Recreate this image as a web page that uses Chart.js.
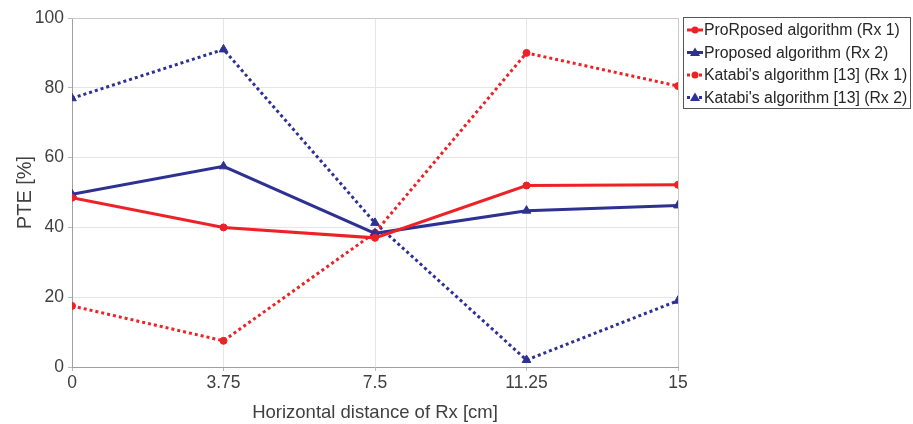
<!DOCTYPE html>
<html lang="en">
<head>
    <meta charset="UTF-8">
    <title>PTE vs horizontal distance</title>
    <script src="https://cdn.jsdelivr.net/npm/chart.js"></script>
    <style>
        body { margin: 0; background: #fff; }
        #wrap { width: 913px; height: 424px; }
    </style>
</head>
<body>
    <div id="wrap"><canvas id="pteChart" width="913" height="424"></canvas></div>

    <script>
        // data
        const distances = [0, 3.75, 7.5, 11.25, 15];
        const xTickLabels = ['0', '3.75', '7.5', '11.25', '15'];
        const proposedRx1 = [48.5, 40, 37, 52, 52.2];
        const proposedRx2 = [49.5, 57.5, 38.3, 44.8, 46.3];
        const katabiRx1 = [17.5, 7.5, 38.5, 90, 80.5];
        const katabiRx2 = [77, 91, 41.3, 2, 19];
        const seriesNames = [
            'ProRposed algorithm (Rx 1)',
            'Proposed algorithm (Rx 2)',
            "Katabi's algorithm [13] (Rx 1)",
            "Katabi's algorithm [13] (Rx 2)"
        ];

        const RED = '#ec2227';
        const BLUE = '#2e3192';
        const FONT = "'Liberation Sans', Arial, sans-serif";

        function toPoints(vals) {
            return vals.map((v, i) => ({ x: distances[i], y: v }));
        }

        function makeSet(i, vals, color, dotted, marker) {
            return {
                label: seriesNames[i],
                data: toPoints(vals),
                borderColor: color,
                backgroundColor: color,
                borderWidth: 3,
                borderDash: dotted ? [3, 3] : [],
                pointStyle: marker,
                pointRadius: marker === 'triangle' ? 5 : 3.5,
                pointBorderWidth: 1,
                tension: 0
            };
        }

        // boxed legend to the right, like the matlab one
        const boxLegend = {
            id: 'boxLegend',
            afterDraw(chart) {
                const c = chart.ctx;
                const x0 = 683, y0 = 17, w = 227, h = 91;
                c.save();
                c.strokeStyle = '#555';
                c.lineWidth = 1;
                c.strokeRect(x0 + 0.5, y0 + 0.5, w, h);
                c.font = '15.8px ' + FONT;
                c.textBaseline = 'middle';
                chart.data.datasets.forEach((ds, i) => {
                    const y = 30 + i * 22.5;
                    c.strokeStyle = ds.borderColor;
                    c.lineWidth = 3;
                    c.setLineDash(ds.borderDash.length ? [3, 3] : []);
                    c.beginPath();
                    c.moveTo(687, y);
                    c.lineTo(703, y);
                    c.stroke();
                    c.setLineDash([]);
                    c.fillStyle = ds.borderColor;
                    c.beginPath();
                    if (ds.pointStyle === 'triangle') {
                        c.moveTo(695, y - 5);
                        c.lineTo(700, y + 3.5);
                        c.lineTo(690, y + 3.5);
                        c.closePath();
                    } else {
                        c.arc(695, y, 3.5, 0, Math.PI * 2);
                    }
                    c.fill();
                    c.fillStyle = '#262626';
                    c.fillText(ds.label, 704, y + 1);
                });
                c.restore();
            }
        };

        const ctx = document.getElementById('pteChart').getContext('2d');
        new Chart(ctx, {
            type: 'line',
            data: {
                datasets: [
                    makeSet(0, proposedRx1, RED, false, 'circle'),
                    makeSet(1, proposedRx2, BLUE, false, 'triangle'),
                    makeSet(2, katabiRx1, RED, true, 'circle'),
                    makeSet(3, katabiRx2, BLUE, true, 'triangle')
                ]
            },
            options: {
                responsive: false,
                animation: false,
                layout: { padding: { top: 18, right: 235, left: 0, bottom: 0 } },
                plugins: {
                    legend: { display: false },
                    tooltip: { enabled: false }
                },
                scales: {
                    x: {
                        type: 'linear',
                        min: 0,
                        max: 15,
                        afterBuildTicks(axis) {
                            axis.ticks = distances.map(v => ({ value: v }));
                        },
                        afterFit(axis) { axis.height = 57; },
                        ticks: {
                            callback: (v, i) => xTickLabels[i],
                            color: '#404040',
                            font: { family: FONT, size: 17.5 },
                            padding: 2,
                            maxRotation: 0
                        },
                        grid: { color: '#e6e6e6', tickLength: 4, drawTicks: true, tickColor: '#bbb' },
                        border: { color: '#a0a0a0', width: 1 },
                        title: {
                            display: true,
                            text: 'Horizontal distance of Rx [cm]',
                            color: '#404040',
                            font: { family: FONT, size: 18.5 },
                            padding: { top: 1, bottom: 0 }
                        }
                    },
                    y: {
                        min: 0,
                        max: 100,
                        ticks: {
                            stepSize: 20,
                            color: '#404040',
                            font: { family: FONT, size: 17.5 },
                            padding: 4
                        },
                        afterFit(axis) { axis.width = 72; },
                        grid: { color: '#e6e6e6', tickLength: 4, tickColor: '#bbb' },
                        border: { color: '#a0a0a0', width: 1 },
                        title: {
                            display: true,
                            text: 'PTE [%]',
                            color: '#404040',
                            font: { family: FONT, size: 20 },
                            padding: { top: 13, bottom: 0 }
                        }
                    }
                }
            },
            plugins: [boxLegend, {
                id: 'frame',
                afterDraw(chart) {
                    const a = chart.chartArea, c = chart.ctx;
                    c.save();
                    c.strokeStyle = '#c8c8c8';
                    c.lineWidth = 1;
                    c.beginPath();
                    c.moveTo(a.left, a.top + 0.5);
                    c.lineTo(a.right + 0.5, a.top + 0.5);
                    c.lineTo(a.right + 0.5, a.bottom);
                    c.stroke();
                    c.restore();
                }
            }]
        });
    </script>
</body>
</html>
